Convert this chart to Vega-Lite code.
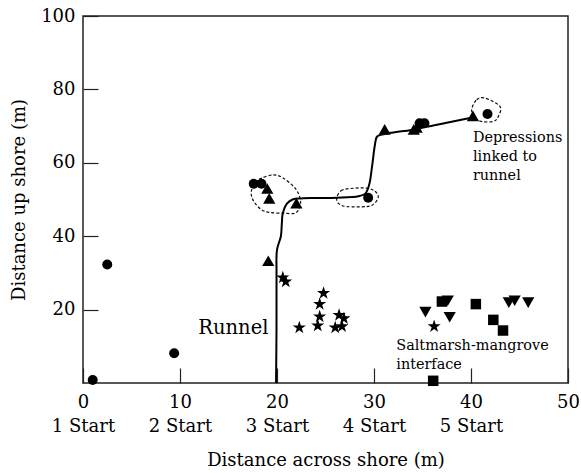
{
  "$schema": "https://vega.github.io/schema/vega-lite/v6.json",
  "width": 485,
  "height": 367,
  "autosize": {"type": "none"},
  "padding": {"left": 83, "top": 16, "right": 13, "bottom": 90},
  "config": {
    "view": {"stroke": "#222", "strokeWidth": 1.5},
    "font": "DejaVu Serif",
    "axis": {"grid": false, "domain": false, "labelColor": "#000", "titleColor": "#000", "titleFontWeight": "normal", "tickColor": "#222", "tickWidth": 1.2}
  },
  "datasets": {
    "points": [
      {"x": 1.0, "y": 0.8, "type": "circle"},
      {"x": 2.5, "y": 32.3, "type": "circle"},
      {"x": 9.4, "y": 8.1, "type": "circle"},
      {"x": 17.6, "y": 54.3, "type": "circle"},
      {"x": 18.4, "y": 54.3, "type": "circle"},
      {"x": 29.4, "y": 50.5, "type": "circle"},
      {"x": 34.7, "y": 70.8, "type": "circle"},
      {"x": 35.2, "y": 70.8, "type": "circle"},
      {"x": 41.7, "y": 73.3, "type": "circle"},
      {"x": 19.0, "y": 53.0, "type": "triangle"},
      {"x": 19.2, "y": 50.3, "type": "triangle"},
      {"x": 22.0, "y": 49.0, "type": "triangle"},
      {"x": 19.1, "y": 33.3, "type": "triangle"},
      {"x": 31.1, "y": 69.1, "type": "triangle"},
      {"x": 34.1, "y": 69.1, "type": "triangle"},
      {"x": 34.4, "y": 69.6, "type": "triangle"},
      {"x": 40.2, "y": 72.8, "type": "triangle"},
      {"x": 20.6, "y": 28.7, "type": "star"},
      {"x": 20.9, "y": 27.6, "type": "star"},
      {"x": 22.3, "y": 15.1, "type": "star"},
      {"x": 24.8, "y": 24.5, "type": "star"},
      {"x": 24.4, "y": 21.5, "type": "star"},
      {"x": 24.4, "y": 18.1, "type": "star"},
      {"x": 24.2, "y": 15.6, "type": "star"},
      {"x": 26.4, "y": 18.5, "type": "star"},
      {"x": 26.9, "y": 17.6, "type": "star"},
      {"x": 26.0, "y": 15.1, "type": "star"},
      {"x": 26.7, "y": 15.4, "type": "star"},
      {"x": 36.2, "y": 15.4, "type": "star"},
      {"x": 35.3, "y": 19.3, "type": "tridown"},
      {"x": 37.6, "y": 22.4, "type": "tridown"},
      {"x": 37.8, "y": 17.9, "type": "tridown"},
      {"x": 43.9, "y": 21.9, "type": "tridown"},
      {"x": 44.5, "y": 22.4, "type": "tridown"},
      {"x": 45.9, "y": 21.9, "type": "tridown"},
      {"x": 37.0, "y": 22.2, "type": "square"},
      {"x": 40.5, "y": 21.5, "type": "square"},
      {"x": 42.3, "y": 17.2, "type": "square"},
      {"x": 43.3, "y": 14.3, "type": "square"},
      {"x": 36.1, "y": 0.6, "type": "square"}
    ],
    "runnel": [
      {"o": 1, "x": 19.9, "y": 0},
      {"o": 2, "x": 19.95, "y": 15},
      {"o": 3, "x": 19.95, "y": 30},
      {"o": 4, "x": 20.0, "y": 36.3},
      {"o": 5, "x": 20.4, "y": 40},
      {"o": 6, "x": 20.5, "y": 43.5},
      {"o": 7, "x": 20.6, "y": 46.3},
      {"o": 8, "x": 21.0, "y": 48.8},
      {"o": 9, "x": 21.6, "y": 50.0},
      {"o": 10, "x": 22.5, "y": 50.3},
      {"o": 11, "x": 24.0, "y": 50.4},
      {"o": 12, "x": 26.2, "y": 50.5},
      {"o": 13, "x": 28.4, "y": 50.9},
      {"o": 14, "x": 29.1, "y": 51.6},
      {"o": 15, "x": 29.5, "y": 54},
      {"o": 16, "x": 29.8, "y": 59},
      {"o": 17, "x": 30.1, "y": 65.0},
      {"o": 18, "x": 30.3, "y": 67.1},
      {"o": 19, "x": 30.8, "y": 67.7},
      {"o": 20, "x": 32.3, "y": 68.4},
      {"o": 21, "x": 34.1, "y": 69.0},
      {"o": 22, "x": 35.4, "y": 69.8},
      {"o": 23, "x": 37.5, "y": 70.9},
      {"o": 24, "x": 39.9, "y": 72.2}
    ],
    "loops": [
      {"loop": "a", "o": 1, "x": 18.42, "y": 55.82},
      {"loop": "a", "o": 2, "x": 19.62, "y": 56.72},
      {"loop": "a", "o": 3, "x": 20.65, "y": 55.82},
      {"loop": "a", "o": 4, "x": 21.86, "y": 53.10},
      {"loop": "a", "o": 5, "x": 22.37, "y": 50.37},
      {"loop": "a", "o": 6, "x": 22.37, "y": 48.08},
      {"loop": "a", "o": 7, "x": 21.86, "y": 46.28},
      {"loop": "a", "o": 8, "x": 20.65, "y": 46.28},
      {"loop": "a", "o": 9, "x": 19.28, "y": 46.44},
      {"loop": "a", "o": 10, "x": 18.42, "y": 47.18},
      {"loop": "a", "o": 11, "x": 17.73, "y": 49.01},
      {"loop": "a", "o": 12, "x": 17.39, "y": 50.81},
      {"loop": "a", "o": 13, "x": 17.39, "y": 52.63},
      {"loop": "a", "o": 14, "x": 17.91, "y": 54.90},
      {"loop": "b", "o": 1, "x": 26.15, "y": 50.37},
      {"loop": "b", "o": 2, "x": 26.6, "y": 52.36},
      {"loop": "b", "o": 3, "x": 27.53, "y": 52.99},
      {"loop": "b", "o": 4, "x": 29.25, "y": 53.1},
      {"loop": "b", "o": 5, "x": 30.1, "y": 52.22},
      {"loop": "b", "o": 6, "x": 30.44, "y": 50.72},
      {"loop": "b", "o": 7, "x": 30.0, "y": 48.8},
      {"loop": "b", "o": 8, "x": 29.25, "y": 48.08},
      {"loop": "b", "o": 9, "x": 27.19, "y": 48.08},
      {"loop": "b", "o": 10, "x": 26.4, "y": 48.8},
      {"loop": "c", "o": 1, "x": 40.07, "y": 74.45},
      {"loop": "c", "o": 2, "x": 40.59, "y": 77.18},
      {"loop": "c", "o": 3, "x": 41.44, "y": 77.64},
      {"loop": "c", "o": 4, "x": 42.99, "y": 75.35},
      {"loop": "c", "o": 5, "x": 42.81, "y": 72.62},
      {"loop": "c", "o": 6, "x": 42.3, "y": 71.26},
      {"loop": "c", "o": 7, "x": 41.1, "y": 71.26},
      {"loop": "c", "o": 8, "x": 40.41, "y": 72.18}
    ],
    "notes": [
      {"x": 15.5, "y": 15.0, "text": ["Runnel"], "kind": "big"},
      {"x": 40.2, "y": 68.7, "text": ["Depressions", "linked to", "runnel"], "kind": "small"},
      {"x": 32.3, "y": 11.9, "text": ["Saltmarsh-mangrove", "interface"], "kind": "small"}
    ]
  },
  "layer": [
    {
      "data": {"name": "loops"},
      "mark": {"type": "line", "interpolate": "cardinal-closed", "color": "#111", "strokeWidth": 1.2, "strokeDash": [3, 2]},
      "encoding": {
        "x": {"field": "x", "type": "quantitative", "scale": {"domain": [0, 50], "nice": false, "zero": false},
          "axis": {"values": [0, 10, 20, 30, 40, 50], "tickSize": -15, "labelPadding": 25, "labelFlush": false, "labelOverlap": false, "labelLineHeight": 24, "labelBaseline": "top",
            "labelFont": "DejaVu Serif", "labelFontSize": 18, "titleFont": "DejaVu Serif", "titleFontSize": 18, "titleFontWeight": "normal",
            "labelExpr": "datum.value == 50 ? '50' : [datum.label, (datum.value / 10 + 1) + ' Start']",
            "title": "Distance across shore (m)", "titlePadding": 16}},
        "y": {"field": "y", "type": "quantitative", "scale": {"domain": [0, 100], "nice": false},
          "axis": {"values": [20, 40, 60, 80, 100], "tickSize": -15, "labelPadding": 23,
            "labelFont": "DejaVu Serif", "labelFontSize": 18, "titleFont": "DejaVu Serif", "titleFontSize": 18, "titleFontWeight": "normal",
            "title": "Distance up shore (m)", "titlePadding": 12}},
        "detail": {"field": "loop"},
        "order": {"field": "o", "type": "quantitative"}
      }
    },
    {
      "data": {"name": "runnel"},
      "mark": {"type": "line", "interpolate": "catmull-rom", "color": "#000", "strokeWidth": 2},
      "encoding": {
        "x": {"field": "x", "type": "quantitative"},
        "y": {"field": "y", "type": "quantitative"},
        "order": {"field": "o", "type": "quantitative"}
      }
    },
    {
      "data": {"name": "points"},
      "mark": {"type": "point", "filled": true, "color": "#000", "opacity": 1, "clip": false},
      "encoding": {
        "x": {"field": "x", "type": "quantitative"},
        "y": {"field": "y", "type": "quantitative"},
        "shape": {"field": "type", "type": "nominal", "legend": null,
          "scale": {"domain": ["circle", "triangle", "star", "tridown", "square"],
            "range": ["circle", "triangle-up", "M0,-1L0.2245,-0.309L0.951,-0.309L0.363,0.118L0.588,0.809L0,0.382L-0.588,0.809L-0.363,0.118L-0.951,-0.309L-0.2245,-0.309Z", "triangle-down", "square"]}},
        "size": {"field": "type", "type": "nominal", "legend": null,
          "scale": {"type": "ordinal", "domain": ["circle", "triangle", "star", "tridown", "square"], "range": [100, 150, 190, 150, 110]}}
      }
    },
    {
      "data": {"name": "notes"},
      "transform": [{"filter": "datum.kind == 'big'"}],
      "mark": {"type": "text", "font": "DejaVu Serif", "fontSize": 19.5, "color": "#000", "align": "center", "baseline": "middle"},
      "encoding": {
        "x": {"field": "x", "type": "quantitative"},
        "y": {"field": "y", "type": "quantitative"},
        "text": {"field": "text"}
      }
    },
    {
      "data": {"name": "notes"},
      "transform": [{"filter": "datum.kind == 'small'"}],
      "mark": {"type": "text", "font": "DejaVu Serif", "fontSize": 14.4, "lineHeight": 19, "color": "#000", "align": "left", "baseline": "top"},
      "encoding": {
        "x": {"field": "x", "type": "quantitative"},
        "y": {"field": "y", "type": "quantitative"},
        "text": {"field": "text"}
      }
    }
  ]
}
